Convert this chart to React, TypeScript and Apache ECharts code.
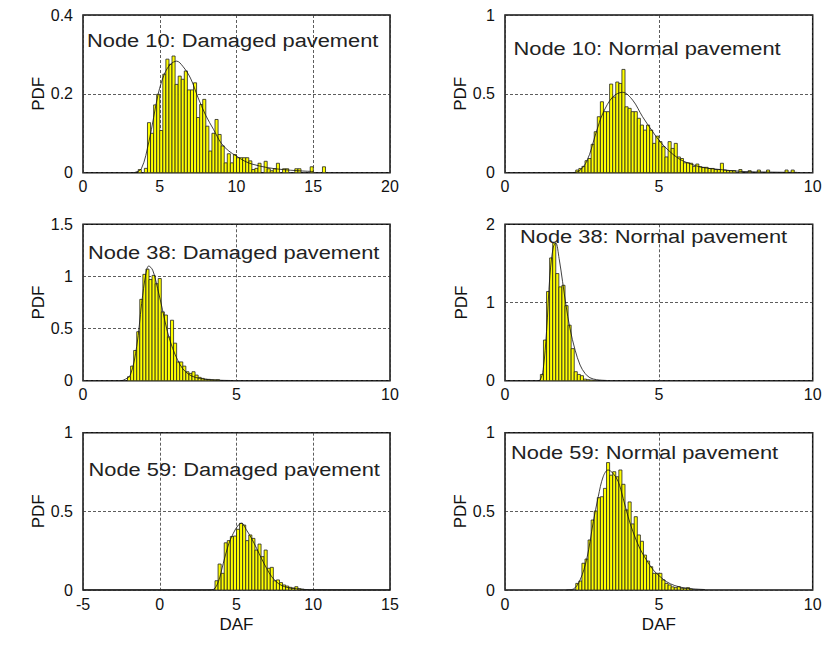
import React, { useEffect, useRef } from "react";
import * as echarts from "echarts";

// ---------- Data ----------
// Histogram heights per bin; bins start at *_START with width *_W
const P1_START = 3.6, P1_W = 0.2;
const p1Heights = [0.008, 0, 0.011, 0.127, 0.10, 0.172, 0.199, 0.107, 0.25, 0.288, 0.275, 0.296, 0.224, 0.245, 0.237, 0.258, 0.21, 0.21, 0.228, 0.14, 0.173, 0.186, 0.118, 0.055, 0.10, 0.135, 0.097, 0.068, 0.025, 0.048, 0.025, 0.046, 0.038, 0.038, 0.038, 0.038, 0.03, 0.008, 0.011, 0.024, 0, 0.029, 0.01, 0.005, 0.01, 0.024, 0, 0.01, 0.01, 0, 0, 0.01, 0.01, 0, 0, 0, 0.015, 0, 0, 0, 0.015];
const p1CurveX = [3.3, 3.8, 4.3, 4.6, 4.9, 5.3, 5.7, 6.1, 6.5, 7.0, 7.5, 8.0, 8.5, 9.0, 9.5, 10.0, 10.5, 11.0, 12.0, 13.0, 14.0, 15.0];
const p1CurveY = [0, 0.01, 0.08, 0.14, 0.2, 0.25, 0.275, 0.283, 0.27, 0.24, 0.19, 0.145, 0.11, 0.075, 0.055, 0.042, 0.03, 0.022, 0.013, 0.008, 0.005, 0.003];

const P2_START = 2.3, P2_W = 0.1;
const p2Heights = [0.017, 0.027, 0.04, 0.076, 0.09, 0.18, 0.26, 0.355, 0.45, 0.387, 0.387, 0.562, 0.48, 0.575, 0.566, 0.655, 0.418, 0.408, 0.387, 0.387, 0.345, 0.302, 0.27, 0.302, 0.27, 0.186, 0.232, 0.197, 0.165, 0.1, 0.197, 0.154, 0.186, 0.1, 0.09, 0.063, 0.063, 0.06, 0.04, 0.055, 0.038, 0.034, 0.034, 0.027, 0.027, 0.02, 0.02, 0.06, 0.017, 0.013, 0.013, 0.013, 0, 0.02, 0, 0, 0.013, 0, 0, 0.017, 0, 0, 0.017, 0, 0, 0, 0, 0, 0.017, 0, 0.017];
const p2CurveX = [2.1, 2.33, 2.65, 2.97, 3.18, 3.5, 3.82, 4.15, 4.47, 4.8, 5.04, 5.3, 5.64, 5.97, 6.4, 6.94, 7.7, 8.56, 9.5];
const p2CurveY = [0, 0.004, 0.07, 0.26, 0.376, 0.48, 0.51, 0.46, 0.355, 0.26, 0.197, 0.144, 0.09, 0.06, 0.034, 0.021, 0.008, 0.004, 0.002];

const P3_START = 1.45, P3_W = 0.1;
const p3Heights = [0.038, 0.14, 0.29, 0.47, 0.78, 1.02, 1.07, 0.97, 1.01, 0.93, 0.98, 0.66, 0.63, 0.42, 0.58, 0.36, 0.18, 0.18, 0.14, 0.086, 0.07, 0.086, 0.054, 0.032, 0.022, 0.015, 0.013, 0.01, 0.008, 0.01];
const p3CurveX = [1.2, 1.32, 1.54, 1.75, 1.91, 2.05, 2.14, 2.27, 2.43, 2.59, 2.75, 2.92, 3.08, 3.24, 3.45, 3.66, 3.99, 4.3, 4.8];
const p3CurveY = [0, 0.006, 0.054, 0.33, 0.74, 1.03, 1.1, 1.06, 0.885, 0.68, 0.47, 0.31, 0.2, 0.118, 0.06, 0.032, 0.013, 0.006, 0.002];

const P4_START = 1.15, P4_W = 0.1;
const p4Heights = [0.08, 0.52, 1.14, 1.57, 1.76, 1.37, 1.2, 1.22, 0.96, 0.71, 0.41, 0.115, 0.08, 0.064, 0.02, 0.013, 0.009, 0.005];
const p4CurveX = [1.05, 1.14, 1.24, 1.35, 1.46, 1.57, 1.65, 1.76, 1.87, 1.98, 2.11, 2.28, 2.44, 2.6, 2.76, 2.98, 3.3];
const p4CurveY = [0, 0.009, 0.14, 0.63, 1.35, 1.71, 1.76, 1.56, 1.27, 0.97, 0.67, 0.39, 0.2, 0.094, 0.038, 0.013, 0.003];

const P5_START = 3.6, P5_W = 0.2;
const p5Heights = [0.059, 0.165, 0.106, 0.3, 0.314, 0.34, 0.343, 0.386, 0.424, 0.413, 0.314, 0.35, 0.328, 0.254, 0.292, 0.212, 0.254, 0.138, 0.144, 0.059, 0.064, 0.047, 0.032, 0.025, 0.017, 0.013, 0.021, 0.008, 0.005];
const p5CurveX = [-5, 3.2, 3.5, 3.82, 4.14, 4.47, 4.79, 5.12, 5.33, 5.66, 5.98, 6.31, 6.63, 6.96, 7.29, 7.72, 8.26, 8.9, 9.77, 15];
const p5CurveY = [0, 0, 0.004, 0.053, 0.17, 0.286, 0.36, 0.413, 0.424, 0.38, 0.328, 0.265, 0.2, 0.138, 0.085, 0.042, 0.017, 0.008, 0.002, 0];

const P6_START = 2.3, P6_W = 0.1;
const p6Heights = [0.042, 0.057, 0.17, 0.197, 0.318, 0.445, 0.502, 0.587, 0.593, 0.646, 0.81, 0.73, 0.752, 0.72, 0.763, 0.672, 0.509, 0.56, 0.42, 0.466, 0.35, 0.31, 0.222, 0.184, 0.148, 0.106, 0.106, 0.106, 0.064, 0.042, 0.032, 0.02, 0.015, 0.021, 0.011, 0.011, 0.015, 0.006];
const p6CurveX = [2.0, 2.22, 2.44, 2.66, 2.87, 3.03, 3.19, 3.35, 3.51, 3.68, 3.84, 4.0, 4.16, 4.38, 4.6, 4.82, 5.04, 5.25, 5.52, 5.9, 6.5];
const p6CurveY = [0, 0.006, 0.064, 0.2, 0.434, 0.593, 0.72, 0.763, 0.742, 0.689, 0.583, 0.466, 0.37, 0.265, 0.19, 0.127, 0.085, 0.053, 0.028, 0.011, 0.003];

const titles = [
  "Node 10: Damaged pavement",
  "Node 10: Normal pavement",
  "Node 38: Damaged pavement",
  "Node 38: Normal pavement",
  "Node 59: Damaged pavement",
  "Node 59: Normal pavement",
];

const xRanges = [[0, 20], [0, 10], [0, 10], [0, 10], [-5, 15], [0, 10]];
const yRanges = [[0, 0.4, 0.2], [0, 1, 0.5], [0, 1.5, 0.5], [0, 2, 1], [0, 1, 0.5], [0, 1, 0.5]];

// ---------- Layout ----------
const grids = [
  { left: 83, top: 15, width: 307, height: 157.7 },
  { left: 505, top: 15, width: 307.7, height: 157.7 },
  { left: 83, top: 224.3, width: 307, height: 156.4 },
  { left: 505, top: 224.3, width: 307.7, height: 156.4 },
  { left: 83, top: 432.7, width: 307, height: 157.3 },
  { left: 505, top: 432.7, width: 307.7, height: 157.3 },
];
const titlePos = [
  { x: 87, y: 40.5 },
  { x: 513.5, y: 48.5 },
  { x: 88, y: 252.5 },
  { x: 520, y: 235.8 },
  { x: 88.5, y: 469 },
  { x: 511, y: 451.8 },
];

const FONT = '"Liberation Sans", Arial, Helvetica, sans-serif';

function makeBins(start: number, w: number, heights: number[]) {
  const out: number[][] = [];
  heights.forEach((h, i) => {
    if (h > 0) out.push([start + i * w, start + (i + 1) * w, h]);
  });
  return out;
}

const histos = [
  makeBins(P1_START, P1_W, p1Heights),
  makeBins(P2_START, P2_W, p2Heights),
  makeBins(P3_START, P3_W, p3Heights),
  makeBins(P4_START, P4_W, p4Heights),
  makeBins(P5_START, P5_W, p5Heights),
  makeBins(P6_START, P6_W, p6Heights),
];
const curves = [
  [p1CurveX, p1CurveY],
  [p2CurveX, p2CurveY],
  [p3CurveX, p3CurveY],
  [p4CurveX, p4CurveY],
  [p5CurveX, p5CurveY],
  [p6CurveX, p6CurveY],
];

function buildOption() {
  const dashed = { color: "#333", width: 0.8, type: [3, 2] as any };
  const xAxis = grids.map((_, i) => ({
    type: "value",
    gridIndex: i,
    min: xRanges[i][0],
    max: xRanges[i][1],
    interval: 5,
    axisLine: { show: false },
    axisTick: { show: false },
    splitLine: { show: true, lineStyle: dashed },
    axisLabel: { color: "#111", fontSize: 16, fontFamily: FONT, margin: 6 },
    name: i >= 4 ? "DAF" : "",
    nameLocation: "middle",
    nameGap: 26,
    nameTextStyle: { color: "#111", fontSize: 17, fontFamily: FONT },
  }));
  const yAxis = grids.map((_, i) => ({
    type: "value",
    gridIndex: i,
    min: yRanges[i][0],
    max: yRanges[i][1],
    interval: yRanges[i][2],
    axisLine: { show: false },
    axisTick: { show: false },
    splitLine: { show: true, lineStyle: dashed },
    axisLabel: { color: "#111", fontSize: 16, fontFamily: FONT, margin: 10 },
    name: "PDF",
    nameLocation: "middle",
    nameGap: i % 2 === 0 ? 33 : 35,
    nameTextStyle: { color: "#111", fontSize: 17, fontFamily: FONT },
  }));
  const series: any[] = [];
  grids.forEach((_, i) => {
    series.push({
      type: "custom",
      xAxisIndex: i,
      yAxisIndex: i,
      clip: true,
      encode: { x: [0, 1], y: 2 },
      data: histos[i],
      renderItem: (params: any, api: any) => {
        const x0 = api.value(0), x1 = api.value(1), h = api.value(2);
        const a = api.coord([x0, h]);
        const b = api.coord([x1, 0]);
        return {
          type: "rect",
          shape: { x: a[0], y: a[1], width: b[0] - a[0], height: b[1] - a[1] },
          style: { fill: "#ffff00", stroke: "#222", lineWidth: 0.8 },
        };
      },
      z: 2,
    });
    const [cx, cy] = curves[i];
    series.push({
      type: "line",
      xAxisIndex: i,
      yAxisIndex: i,
      data: cx.map((x, k) => [x, cy[k]]),
      showSymbol: false,
      symbol: "none",
      smooth: 0.35,
      lineStyle: { color: "#111", width: 0.8 },
      z: 3,
    });
  });
  const graphic = titles.map((t, i) => ({
    type: "text",
    x: titlePos[i].x,
    y: titlePos[i].y,
    scaleX: 1.15,
    z: 100,
    style: {
      text: t,
      font: `19px ${FONT}`,
      fill: "#222",
      textAlign: "left",
      textVerticalAlign: "middle",
    },
  }));
  return {
    animation: false,
    backgroundColor: "#fff",
    textStyle: { fontFamily: FONT },
    grid: grids.map((g) => ({ ...g, show: true, borderColor: "#111", borderWidth: 1.5, backgroundColor: "transparent" })),
    xAxis,
    yAxis,
    series,
    graphic,
  };
}

export default function App() {
  const ref = useRef<HTMLDivElement>(null);
  useEffect(() => {
    const chart = echarts.init(ref.current!, null, { renderer: "svg" });
    chart.setOption(buildOption() as any);
    return () => chart.dispose();
  }, []);
  return (
    <div
      ref={ref}
      style={{ position: "fixed", left: 0, top: 0, width: 825, height: 652, background: "#fff" }}
    />
  );
}
